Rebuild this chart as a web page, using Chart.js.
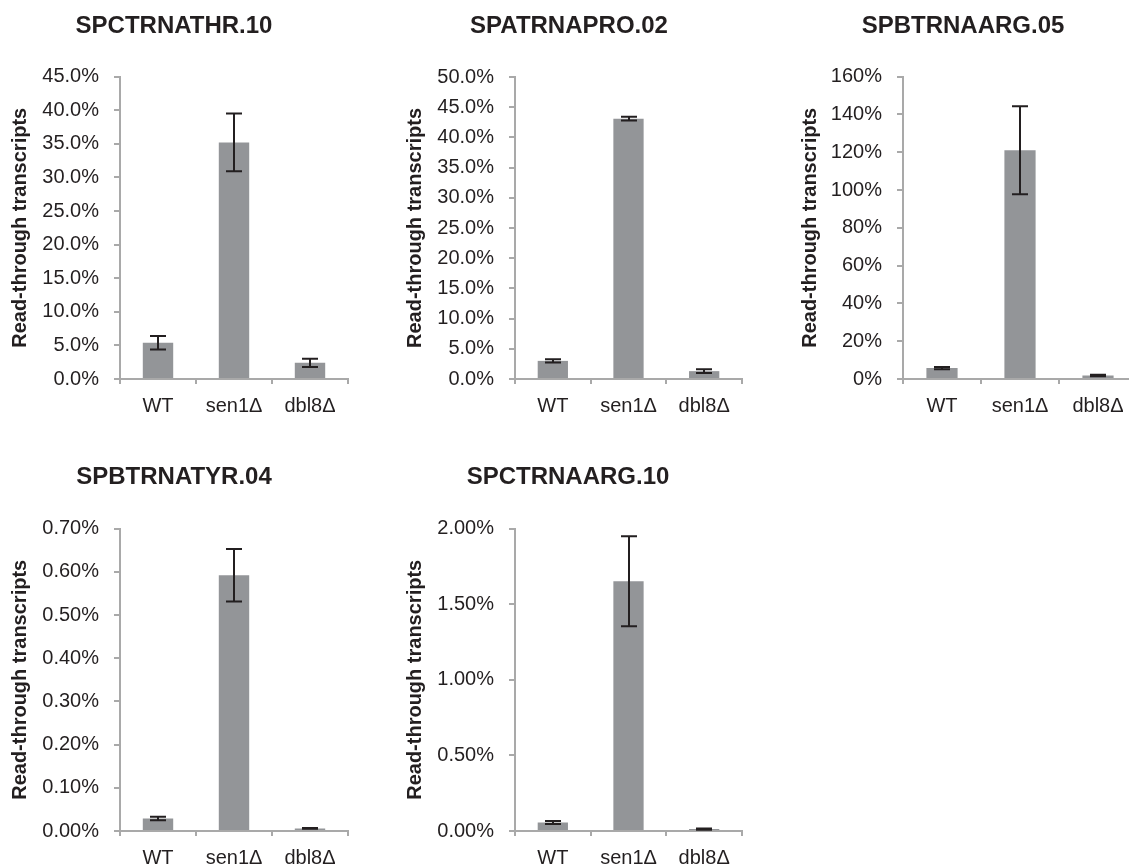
<!DOCTYPE html>
<html>
<head>
<meta charset="utf-8">
<script src="https://cdn.jsdelivr.net/npm/chart.js@4.4.1/dist/chart.umd.min.js"></script>
<style>
  html, body { margin: 0; padding: 0; background: #fff; overflow: hidden; }
  body { position: relative; width: 1129px; height: 868px; }
  canvas { position: absolute; }
</style>
</head>
<body>
<canvas id="c1"></canvas>
<canvas id="c2"></canvas>
<canvas id="c3"></canvas>
<canvas id="c4"></canvas>
<canvas id="c5"></canvas>
<script>
// data (values in %)
const categories = ['WT', 'sen1\u0394', 'dbl8\u0394'];
const yTitle = 'Read-through transcripts';

const thr10Values = [5.4, 35.2, 2.4];
const thr10Errors = [1.0, 4.3, 0.6];

const pro02Values = [3.0, 43.1, 1.3];
const pro02Errors = [0.25, 0.3, 0.3];

const arg05Values = [5.8, 121, 1.8];
const arg05Errors = [0.6, 23.3, 0.4];

const tyr04Values = [0.029, 0.592, 0.006];
const tyr04Errors = [0.004, 0.061, 0.001];

const arg10Values = [0.056, 1.652, 0.013];
const arg10Errors = [0.01, 0.298, 0.004];

const FONT = "'Liberation Sans', Arial, Helvetica, sans-serif";
const TEXT = '#231f20';
const AXIS = '#a9a9a9';
const BAR = '#939598';

// draws the +/- whiskers on top of each bar
const errorBars = {
  id: 'errorBars',
  afterDatasetsDraw(chart, args, opts) {
    const { ctx } = chart;
    const y = chart.scales.y;
    const vals = chart.data.datasets[0].data;
    const meta = chart.getDatasetMeta(0);
    ctx.save();
    ctx.strokeStyle = TEXT;
    ctx.lineWidth = 2;
    meta.data.forEach((bar, i) => {
      const hi = y.getPixelForValue(vals[i] + opts.errors[i]);
      const lo = y.getPixelForValue(Math.max(vals[i] - opts.errors[i], 0));
      const cx = Math.round(bar.x);
      ctx.beginPath();
      ctx.moveTo(cx, hi); ctx.lineTo(cx, lo);
      ctx.moveTo(cx - 8, hi); ctx.lineTo(cx + 8, hi);
      ctx.moveTo(cx - 8, lo); ctx.lineTo(cx + 8, lo);
      ctx.stroke();
    });
    ctx.restore();
  }
};

const makeChart = (id, cfg) => {
  const el = document.getElementById(id);
  el.width = cfg.w; el.height = cfg.h;
  el.style.left = cfg.left + 'px';
  el.style.top = cfg.top + 'px';
  return new Chart(el, {
    type: 'bar',
    data: {
      labels: categories,
      datasets: [{
        data: cfg.values,
        backgroundColor: BAR,
        borderWidth: 0,
        barPercentage: 0.4,
        categoryPercentage: 1.0,
      }]
    },
    plugins: [errorBars],
    options: {
      responsive: false,
      animation: false,
      devicePixelRatio: 1,
      layout: { padding: { left: 8, right: 8, top: 0, bottom: 0 } },
      plugins: {
        legend: { display: false },
        tooltip: { enabled: false },
        title: {
          display: true,
          text: cfg.title,
          color: TEXT,
          font: { family: FONT, size: 24, weight: 'bold' },
          padding: { top: 12, bottom: cfg.titleGap - 0.8 },
        },
        errorBars: { errors: cfg.errors },
      },
      scales: {
        x: {
          grid: { drawOnChartArea: false, color: AXIS, tickLength: 5, lineWidth: 2, offset: true },
          border: { color: AXIS, width: 2 },
          ticks: { color: TEXT, font: { family: FONT, size: 20 }, padding: 10, maxRotation: 0 },
          afterFit: (s) => { s.height = 45; },
        },
        y: {
          min: 0,
          max: cfg.max,
          grid: { drawOnChartArea: false, color: AXIS, tickLength: 6, lineWidth: 2 },
          border: { color: AXIS, width: 2 },
          ticks: {
            stepSize: cfg.step,
            color: TEXT,
            font: { family: FONT, size: 20 },
            padding: 15,
            callback: (v) => v.toFixed(cfg.dec) + '%',
          },
          title: {
            display: true,
            text: yTitle,
            color: TEXT,
            font: { family: FONT, size: 20, weight: 'bold' },
            padding: { top: cfg.yTitlePad, bottom: 0 },
          },
          afterFit: (s) => { s.width = cfg.axisW; },
        }
      }
    }
  });
};

makeChart('c1', { title: 'SPCTRNATHR.10', values: thr10Values, errors: thr10Errors, max: 45, step: 5, dec: 1,
  left: -8, top: 0, w: 364, h: 424, axisW: 120, yTitlePad: 8, titleGap: 36.6 });
makeChart('c2', { title: 'SPATRNAPRO.02', values: pro02Values, errors: pro02Errors, max: 50, step: 5, dec: 1,
  left: 388, top: 0, w: 362, h: 424, axisW: 119, yTitlePad: 7, titleGap: 37 });
makeChart('c3', { title: 'SPBTRNAARG.05', values: arg05Values, errors: arg05Errors, max: 160, step: 20, dec: 0,
  left: 781, top: 0, w: 364, h: 424, axisW: 114, yTitlePad: 9, titleGap: 36.6 });
makeChart('c4', { title: 'SPBTRNATYR.04', values: tyr04Values, errors: tyr04Errors, max: 0.7, step: 0.1, dec: 2,
  left: -8, top: 451, w: 364, h: 425, axisW: 120, yTitlePad: 8, titleGap: 37.6 });
makeChart('c5', { title: 'SPCTRNAARG.10', values: arg10Values, errors: arg10Errors, max: 2.0, step: 0.5, dec: 2,
  left: 386, top: 451, w: 364, h: 425, axisW: 121, yTitlePad: 9, titleGap: 37.6 });
</script>
</body>
</html>
